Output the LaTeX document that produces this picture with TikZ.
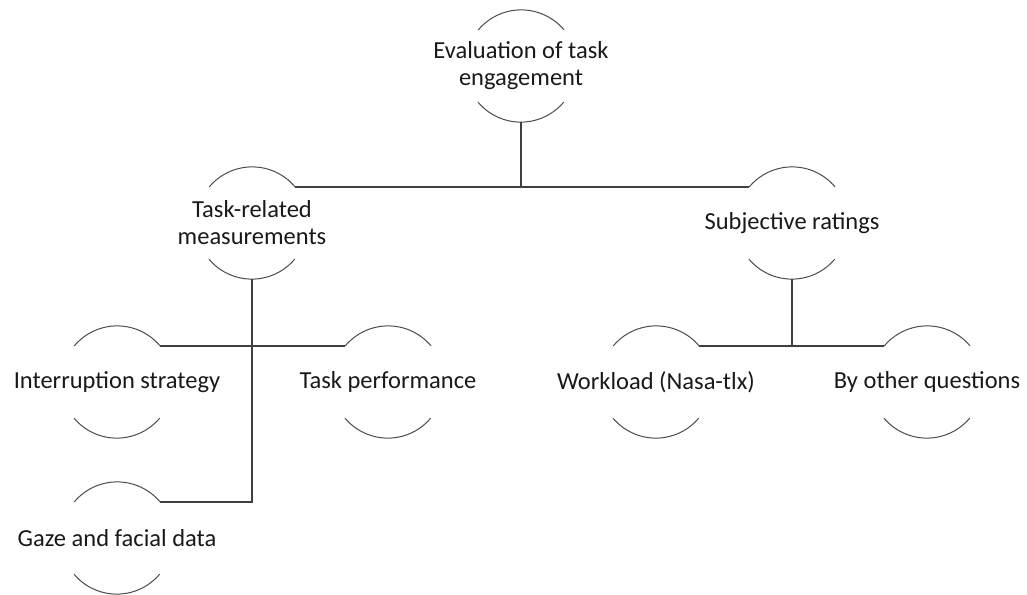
\documentclass[tikz,border=0pt]{standalone}
\usepackage{fontspec}
\setmainfont{Carlito}
\begin{document}
\begin{tikzpicture}[x=1pt,y=1pt,
  circ/.style={circle,minimum size=112pt,inner sep=0pt,draw=none},
  txt/.style={align=center,font=\fontsize{24.5}{27}\selectfont,text=black!90,inner sep=0pt},
  conn/.style={draw=black!75,line width=1.6pt},
  arcline/.style={draw=black!70,line width=1pt}]
\useasboundingbox (0,0) rectangle (1027,-594);
% circles (invisible), text on top
\node[circ] (top) at (521,-66) {};
\node[circ] (task) at (252,-223) {};
\node[circ] (subj) at (792,-223) {};
\node[circ] (inter) at (117,-382) {};
\node[circ] (perf) at (388,-382) {};
\node[circ] (gaze) at (117,-538) {};
\node[circ] (work) at (656,-382) {};
\node[circ] (other) at (927,-382) {};
\node[txt] (ttop) at (top) {Evaluation of task\\engagement};
\node[txt] (ttask) at (task) {Task-related\\measurements};
\node[txt] (tsubj) at (subj) {Subjective ratings};
\node[txt] (tinter) at (inter) {Interruption strategy};
\node[txt] (tperf) at (perf) {Task performance};
\node[txt] (tgaze) at (gaze) {Gaze and facial data};
\node[txt] (twork) at (work) {Workload (Nasa-tlx)};
\node[txt] (tother) at (other) {By other questions};
% arcs
\foreach \n in {top,task,subj,inter,perf,gaze,work,other}{
  \draw[arcline] (\n.40) arc (40:140:56);
  \draw[arcline] (\n.220) arc (220:320:56);
}
% connectors
\coordinate (j1) at (top.south |- task.40);
\draw[conn] (top.south) -- (j1);
\draw[conn] (task.40) -- (subj.140);
\coordinate (j2) at (task.south |- gaze.40);
\draw[conn] (task.south) -- (j2) -- (gaze.40);
\draw[conn] (inter.40) -- (perf.140);
\coordinate (j3) at (subj.south |- work.40);
\draw[conn] (subj.south) -- (j3);
\draw[conn] (work.40) -- (other.140);
\end{tikzpicture}
\end{document}
